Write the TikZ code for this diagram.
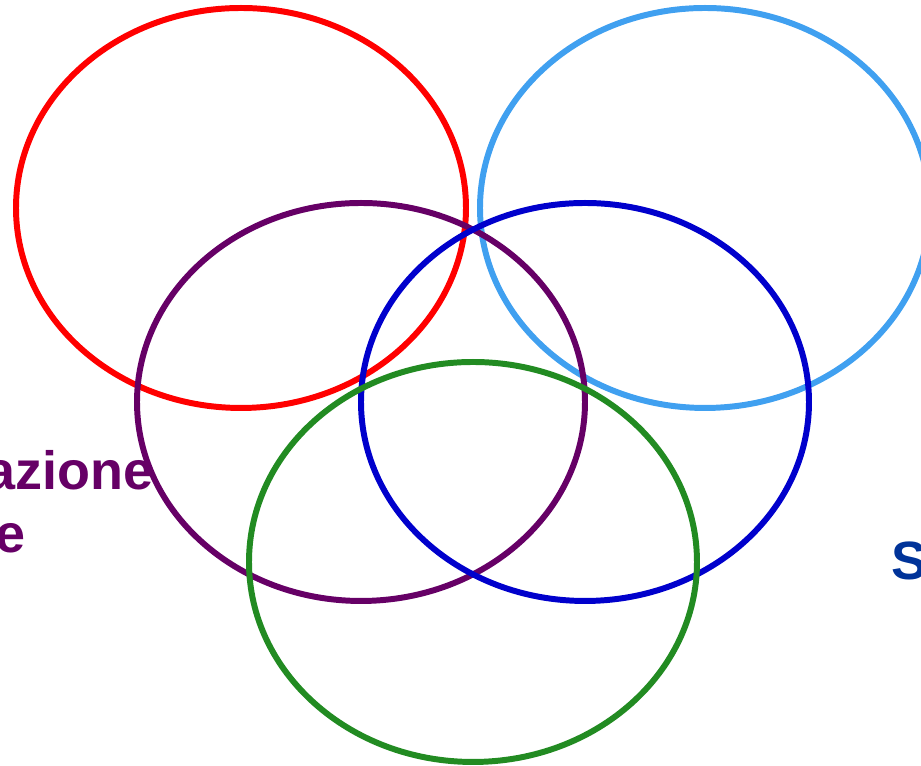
\documentclass[tikz,border=0pt]{standalone}
\usepackage{fontspec}
\setmainfont{Liberation Sans}
\definecolor{vennred}{RGB}{255, 0, 0}
\definecolor{vennsky}{RGB}{64, 160, 240}
\definecolor{vennpurple}{RGB}{102, 0, 102}
\definecolor{vennblue}{RGB}{0, 0, 204}
\definecolor{venngreen}{RGB}{34, 139, 34}
\definecolor{labelblue}{RGB}{0, 51, 153}
\begin{document}
\begin{tikzpicture}[x=0.02cm, y=0.02cm]
                    \useasboundingbox (0,0) rectangle (921,766);
                    \clip (0,0) rectangle (921,766);
                    \tikzset{ring/.style={line width=3.4pt}, label/.style={font=\fontsize{30.7}{35}\selectfont\bfseries, inner sep=0pt}}

                    \draw[ring, vennred] (241,558) ellipse [x radius=225, y radius=200];
                    \draw[ring, vennsky] (705,558) ellipse [x radius=225, y radius=200];
                    \draw[ring, vennpurple] (361,364) ellipse [x radius=224, y radius=199];
                    \draw[ring, vennblue] (585,364) ellipse [x radius=224, y radius=199];
                    \draw[ring, venngreen] (473,204) ellipse [x radius=224, y radius=200];

                    \node[label, text=vennpurple, anchor=base east] (azione) at (154,276) {azione};
                    \node[label, text=vennpurple, anchor=base east] (e) at (26,213) {e};
                    \node[label, text=labelblue, anchor=base west] (s) at (891,186) {S};
                \end{tikzpicture}
\end{document}
